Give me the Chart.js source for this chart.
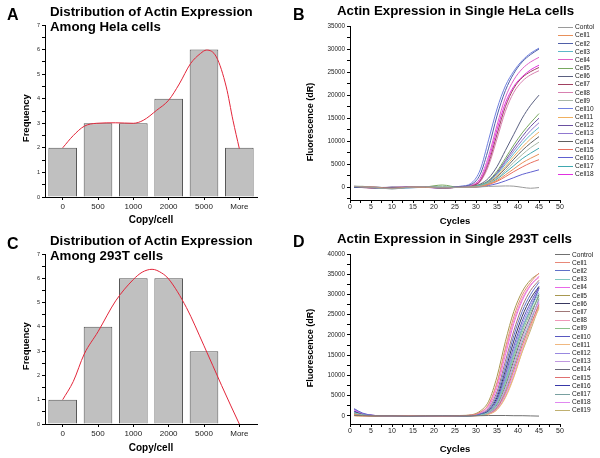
<!DOCTYPE html>
<html><head><meta charset="utf-8">
<script src="https://cdn.jsdelivr.net/npm/chart.js@4.4.1/dist/chart.umd.min.js"></script>
<style>
html,body{margin:0;padding:0;background:#fff;}
body{width:600px;height:458px;position:relative;overflow:hidden;font-family:"Liberation Sans",Arial,sans-serif;}
.panel{position:absolute;width:300px;height:229px;}
.panel canvas{position:absolute;left:0;top:0;}
.letter{position:absolute;font-weight:bold;font-size:16px;line-height:16px;color:#000;}
.title{position:absolute;font-weight:bold;font-size:13.3px;line-height:15px;color:#000;white-space:nowrap;}
</style></head>
<body>
<div class="panel" id="pA" style="left:0;top:0"><canvas id="cA" width="300" height="229"></canvas>
  <div class="letter" style="left:7px;top:6.5px">A</div>
  <div class="title" style="left:50px;top:3.9px">Distribution of Actin Expression<br>Among Hela cells</div></div>
<div class="panel" id="pB" style="left:300px;top:0"><canvas id="cB" width="300" height="229"></canvas>
  <div class="letter" style="left:-7px;top:6.5px">B</div>
  <div class="title" style="left:37px;top:2.9px">Actin Expression in Single HeLa cells</div></div>
<div class="panel" id="pC" style="left:0;top:229px"><canvas id="cC" width="300" height="229"></canvas>
  <div class="letter" style="left:7px;top:6.5px">C</div>
  <div class="title" style="left:50px;top:3.9px">Distribution of Actin Expression<br>Among 293T cells</div></div>
<div class="panel" id="pD" style="left:300px;top:229px"><canvas id="cD" width="300" height="229"></canvas>
  <div class="letter" style="left:-7px;top:5px">D</div>
  <div class="title" style="left:37px;top:2.4px">Actin Expression in Single 293T cells</div></div>
<script>
// ---------------- DATA ----------------
const copyLabels = ['0','500','1000','2000','5000','More'];
const helaFreq   = [2, 3, 3, 4, 6, 2];
const t293Freq   = [1, 4, 6, 6, 3, 0];
// fitted curves (x in category-index units)
const helaFitX = [0, 0.3, 0.61, 0.96, 1.5, 2.0, 2.28, 2.66, 3.0, 3.3, 3.62, 3.9, 4.07, 4.35, 4.63, 4.82, 5.0];
const helaFitY = [2.0, 2.5, 2.88, 3.0, 3.02, 3.0, 3.12, 3.53, 3.94, 4.6, 5.43, 5.84, 5.98, 5.7, 4.48, 3.12, 1.97];
const t293FitX = [0, 0.3, 0.61, 1.0, 1.5, 2.0, 2.25, 2.53, 2.8, 3.0, 3.5, 4.0, 4.5, 4.75, 5.0];
const t293FitY = [1.0, 1.75, 2.88, 3.8, 5.07, 5.95, 6.25, 6.37, 6.22, 5.97, 4.8, 3.22, 1.58, 0.78, 0.0];
const freqTicks = [0, 0.5, 1, 1.5, 2, 2.5, 3, 3.5, 4, 4.5, 5, 5.5, 6, 6.5, 7];

const cycles = [1, 3, 6, 10, 14, 18, 22, 26, 29, 31, 33, 35, 37, 39, 41, 43, 45];
const cycleTicks = [0, 2.5, 5, 7.5, 10, 12.5, 15, 17.5, 20, 22.5, 25, 27.5, 30, 32.5, 35, 37.5, 40, 42.5, 45, 47.5, 50];
const helaYTicks = [-2500, 0, 2500, 5000, 7500, 10000, 12500, 15000, 17500, 20000, 22500, 25000, 27500, 30000, 32500, 35000];
const t293YTicks = [0, 2500, 5000, 7500, 10000, 12500, 15000, 17500, 20000, 22500, 25000, 27500, 30000, 32500, 35000, 37500, 40000];

// HeLa amplification curves
const hela_Contol = [200, 100, -50, -350, 0, 100, -100, 0, 50, 100, 200, 250, 300, 250, 0, -200, -50];
const hela_Cell1  = [200, 100, 0, -200, 0, 0, -100, 0, 50, 200, 700, 1500, 2700, 4000, 5300, 6300, 7200];
const hela_Cell2  = [0, 50, -50, 0, -100, 0, -150, 150, 700, 2800, 8500, 15500, 21000, 24700, 27200, 28800, 30000];
const hela_Cell3  = [200, 100, -100, -300, -100, 0, 0, 0, 100, 400, 1200, 2800, 5000, 7300, 9500, 11400, 13000];
const hela_Cell4  = [200, 100, 0, -100, 0, 50, -100, 100, 500, 2000, 6800, 13500, 19500, 23300, 25700, 27200, 28200];
const hela_Cell5  = [100, 200, 0, -200, 0, 100, 500, 0, 150, 500, 1500, 3500, 6300, 9200, 11800, 14000, 16000];
const hela_Cell6  = [0, 0, -100, 0, 0, 0, -100, 50, 200, 700, 2000, 4500, 8000, 11500, 15000, 17800, 20000];
const hela_Cell7  = [50, -50, -150, 0, 0, 100, -100, 60, 350, 1400, 5300, 11500, 17500, 21500, 23800, 25100, 26000];
const hela_Cell8  = [150, 100, 0, -200, 0, 50, -150, 50, 300, 1200, 4700, 10500, 16500, 20600, 23000, 24400, 25300];
const hela_Cell9  = [300, 200, 100, -200, 0, 150, 200, 0, 80, 300, 900, 2000, 3600, 5400, 7100, 8600, 9800];
const hela_Cell10 = [100, 0, -100, -100, 0, 100, -100, 200, 1000, 3800, 10300, 17000, 22000, 25200, 27500, 29100, 30200];
const hela_Cell11 = [0, 0, -50, -100, 0, 0, -100, 0, 100, 400, 1100, 2500, 4500, 6700, 8700, 10500, 12000];
const hela_Cell12 = [0, -50, -100, 0, 50, 0, -100, 0, 150, 500, 1400, 3200, 5800, 8500, 11000, 13200, 15000];
const hela_Cell13 = [100, 0, 0, -100, 0, 50, -50, 0, 100, 450, 1300, 3000, 5400, 7900, 10200, 12300, 14000];
const hela_Cell14 = [100, 50, 0, -100, -50, 100, -150, 0, 80, 350, 1000, 2300, 4100, 6100, 8000, 9600, 11000];
const hela_Cell15 = [100, 0, -100, -100, 0, 50, -50, 0, 50, 200, 600, 1300, 2300, 3400, 4400, 5300, 6000];
const hela_Cell16 = [0, 0, 0, -100, 0, 0, -100, 0, 30, 120, 400, 800, 1400, 2100, 2800, 3300, 3800];
const hela_Cell17 = [0, 0, 0, -100, 0, 0, -100, 0, 60, 250, 800, 1800, 3200, 4700, 6200, 7400, 8500];
const hela_Cell18 = [100, 0, -100, -50, 50, 0, -200, 80, 400, 1600, 6000, 12500, 18300, 21900, 24000, 25500, 26500];
const helaNames = ['Contol','Cell1','Cell2','Cell3','Cell4','Cell5','Cell6','Cell7','Cell8','Cell9','Cell10','Cell11','Cell12','Cell13','Cell14','Cell15','Cell16','Cell17','Cell18'];
const helaSeries = [hela_Contol, hela_Cell1, hela_Cell2, hela_Cell3, hela_Cell4, hela_Cell5, hela_Cell6, hela_Cell7, hela_Cell8, hela_Cell9, hela_Cell10, hela_Cell11, hela_Cell12, hela_Cell13, hela_Cell14, hela_Cell15, hela_Cell16, hela_Cell17, hela_Cell18];
const helaColors = ['#9a9a9a','#e8905a','#4f5fa8','#5cb8c8','#e060c8','#78a860','#5a6080','#a04060','#d880b0','#a8b8a8','#7080e0','#f0b060','#6a50a0','#9078d0','#606060','#e87060','#6060d0','#40a8b0','#e030e0'];

// 293T amplification curves
const t293_Control = [100, 50, 0, 0, -50, 0, 0, 0, 0, 50, 100, 100, 100, 50, 50, 0, -50];
const t293_Cell1  = [300, 100, 0, 0, 50, 0, -50, 50, 200, 900, 2900, 8300, 16800, 24500, 29800, 33000, 35300];
const t293_Cell2  = [1800, 700, 100, 0, 0, -50, 0, 50, 100, 450, 1600, 5200, 12300, 19800, 25800, 30000, 33000];
const t293_Cell3  = [800, 300, 50, 0, 0, 0, 0, 0, 70, 280, 950, 3300, 8700, 15400, 21600, 26400, 30500];
const t293_Cell4  = [1500, 600, 100, 0, 50, 0, -50, 50, 150, 700, 2300, 7000, 15000, 22800, 28500, 32200, 34500];
const t293_Cell5  = [400, 150, 0, 0, 0, 50, 0, 100, 300, 1200, 3600, 9700, 18400, 25800, 30700, 33600, 35200];
const t293_Cell6  = [1000, 400, 50, 0, 0, 0, 0, 0, 100, 400, 1400, 4600, 11200, 18500, 24600, 29000, 32000];
const t293_Cell7  = [500, 200, 0, 0, 50, 0, 0, 50, 120, 550, 1900, 6000, 13500, 21000, 27000, 31000, 33500];
const t293_Cell8  = [200, 100, 0, 50, 0, 0, 0, 50, 200, 900, 2700, 7800, 16000, 23600, 29000, 32400, 34200];
const t293_Cell9  = [600, 200, 0, 0, 0, 0, 0, 0, 60, 250, 850, 3000, 8000, 14500, 20700, 25600, 29500];
const t293_Cell10 = [1200, 500, 50, 0, 0, 0, 0, 0, 80, 350, 1200, 4000, 10200, 17200, 23400, 28000, 31800];
const t293_Cell11 = [0, -100, 0, 0, 0, 0, 0, 0, 20, 100, 400, 1500, 4500, 9500, 16000, 22000, 26500];
const t293_Cell12 = [900, 350, 50, 0, 0, 0, 0, 0, 80, 300, 1050, 3600, 9400, 16300, 22500, 27200, 31500];
const t293_Cell13 = [700, 250, 0, 0, 0, 0, 0, 0, 50, 210, 700, 2400, 6800, 12900, 19000, 24000, 28500];
const t293_Cell14 = [300, 100, 0, 0, 0, 0, 0, 0, 60, 230, 780, 2700, 7400, 13700, 19800, 24800, 30000];
const t293_Cell15 = [100, 0, -50, 0, 50, 0, 0, 0, 40, 170, 580, 2000, 5700, 11300, 17400, 22600, 27500];
const t293_Cell16 = [1600, 600, 100, 0, 0, 0, 0, 0, 70, 280, 950, 3300, 8700, 15400, 21600, 26400, 31500];
const t293_Cell17 = [400, 150, 0, 0, 0, 0, 0, 0, 50, 190, 640, 2200, 6200, 12100, 18200, 23300, 29000];
const t293_Cell18 = [1100, 400, 50, 0, 0, 0, 0, 0, 40, 150, 520, 1800, 5200, 10500, 16600, 21900, 28000];
const t293_Cell19 = [200, 50, 0, 0, 0, 0, 0, 0, 30, 130, 460, 1600, 4700, 9800, 15800, 21200, 27000];
const t293Names = ['Control','Cell1','Cell2','Cell3','Cell4','Cell5','Cell6','Cell7','Cell8','Cell9','Cell10','Cell11','Cell12','Cell13','Cell14','Cell15','Cell16','Cell17','Cell18','Cell19'];
const t293Series = [t293_Control, t293_Cell1, t293_Cell2, t293_Cell3, t293_Cell4, t293_Cell5, t293_Cell6, t293_Cell7, t293_Cell8, t293_Cell9, t293_Cell10, t293_Cell11, t293_Cell12, t293_Cell13, t293_Cell14, t293_Cell15, t293_Cell16, t293_Cell17, t293_Cell18, t293_Cell19];
const t293Colors = ['#707070','#e88878','#6070c8','#80c8c0','#e868e8','#a89850','#383860','#a07878','#f098b8','#88c088','#5858c0','#f0b880','#9888e0','#c098e0','#686878','#e07070','#3838a8','#78a0a0','#e088f0','#c0b070'];

// ---------------- CHARTS ----------------
Chart.defaults.font.family = "'Liberation Sans', Arial, sans-serif";
Chart.defaults.color = '#222';
Chart.defaults.animation = false;

function gridStyle() {
  return {display:true, drawOnChartArea:false, drawTicks:true, tickLength:3, tickColor:'#000', tickWidth:1, offset:false};
}
const borderStyle = {display:true, color:'#000', width:1};
const setTicks = arr => (s => { s.ticks = arr.map(v => ({value: v})); });
// en-spaces after rotated titles shift the visible text slightly downward, as in the original layout
const SHIFT3 = '\u2002\u2002\u2002';
const SHIFT4 = '\u2002\u2002\u2002\u2002';

function histChart(canvasId, freq, fitX, fitY, padBottom, xHeight) {
  return new Chart(document.getElementById(canvasId), {
    type: 'bar',
    data: {
      labels: copyLabels,
      datasets: [
        {type:'bar', data: freq, backgroundColor:'#c0c0c0', borderColor:'#555', borderWidth:1,
         barPercentage:0.81, categoryPercentage:1, grouped:false, order:2},
        {type:'line', xAxisID:'xf', yAxisID:'y', data: fitX.map((x,i)=>({x:x, y:fitY[i]})),
         borderColor:'#e3263a', borderWidth:1, pointRadius:0, cubicInterpolationMode:'monotone', fill:false, order:1}
      ]
    },
    options: {
      responsive:false, animation:false,
      layout:{padding:{left:17, top:25, right:43, bottom:padBottom}},
      plugins:{legend:{display:false}, tooltip:{enabled:false}},
      scales:{
        x:{type:'category', offset:true, grid:gridStyle(), border:borderStyle,
           ticks:{font:{size:8}, color:'#222', padding:2, maxRotation:0, autoSkip:false},
           title:{display:true, text:'Copy/cell', font:{size:10, weight:'bold'}, color:'#000', padding:0},
           afterFit:s=>{s.height = xHeight;}},
        xf:{type:'linear', display:false, offset:false, bounds:'data', min:-0.5, max:5.5},
        y:{type:'linear', min:0, max:7, grid:gridStyle(), border:borderStyle,
           afterBuildTicks: setTicks(freqTicks),
           ticks:{autoSkip:false, font:{size:5.5}, color:'#222', padding:2,
                  callback:v=>Number.isInteger(v)?String(v):''},
           title:{display:true, text:'Frequency' + SHIFT3, font:{size:9.5, weight:'bold'}, color:'#000', padding:4},
           afterFit:s=>{s.width = 28;}}
      }
    }
  });
}

function ampChart(canvasId, names, series, colors, yMin, yMax, yTicks, padTop, padBottom, xHeight) {
  return new Chart(document.getElementById(canvasId), {
    type:'line',
    data:{
      datasets: series.map((vals,i)=>({
        label: names[i],
        data: cycles.map((c,j)=>({x:c, y:vals[j]})),
        borderColor: colors[i], backgroundColor: colors[i],
        borderWidth:1, pointRadius:0, cubicInterpolationMode:'monotone', fill:false
      }))
    },
    options:{
      responsive:false, animation:false,
      layout:{padding:{left:1, top:padTop, right:40, bottom:padBottom}},
      plugins:{legend:{display:false}, tooltip:{enabled:false}},
      scales:{
        x:{type:'linear', min:0, max:50, grid:gridStyle(), border:borderStyle,
           afterBuildTicks: setTicks(cycleTicks),
           ticks:{autoSkip:false, maxRotation:0, font:{size:7}, color:'#222', padding:0,
                  callback:v=>(v%5===0)?String(v):''},
           title:{display:true, text:'Cycles', font:{size:9.5, weight:'bold'}, color:'#000', padding:0},
           afterFit:s=>{s.height = xHeight;}},
        y:{type:'linear', min:yMin, max:yMax, grid:gridStyle(), border:borderStyle,
           afterBuildTicks: setTicks(yTicks),
           ticks:{autoSkip:false, font:{size:6.3}, color:'#222', padding:2,
                  callback:v=>(v%5000===0)?String(v):''},
           title:{display:true, text:'Fluorescence (dR)' + SHIFT4, font:{size:9, weight:'bold'}, color:'#000', padding:4},
           afterFit:s=>{s.width = 49;}}
      }
    }
  });
}

function htmlLegend(panelId, chart, lineLeft, lineLen, textLeft, top0, dy) {
  const panel = document.getElementById(panelId);
  chart.data.datasets.forEach((ds,i)=>{
    const y = top0 + dy*i;
    const ln = document.createElement('div');
    ln.style.cssText = 'position:absolute;left:'+lineLeft+'px;top:'+(Math.round(y)-0.5)+'px;width:'+lineLen+'px;height:0;border-top:1px solid '+ds.borderColor+';';
    const tx = document.createElement('div');
    tx.textContent = ds.label;
    tx.style.cssText = 'position:absolute;left:'+textLeft+'px;top:'+(y-4.5)+'px;line-height:9px;font-size:6.6px;color:#222;white-space:nowrap;';
    panel.appendChild(ln); panel.appendChild(tx);
  });
}

histChart('cA', helaFreq, helaFitX, helaFitY, 3, 29);
histChart('cC', t293Freq, t293FitX, t293FitY, 4, 30);
const chB = ampChart('cB', helaNames, helaSeries, helaColors, -2750, 35000, helaYTicks, 26, 2, 27);
const chD = ampChart('cD', t293Names, t293Series, t293Colors, -2000, 40000, t293YTicks, 25, 3, 31);
htmlLegend('pB', chB, 258, 15, 275, 26.7, 8.17);
htmlLegend('pD', chD, 255, 15, 272, 25, 8.21);
</script>
</body></html>
